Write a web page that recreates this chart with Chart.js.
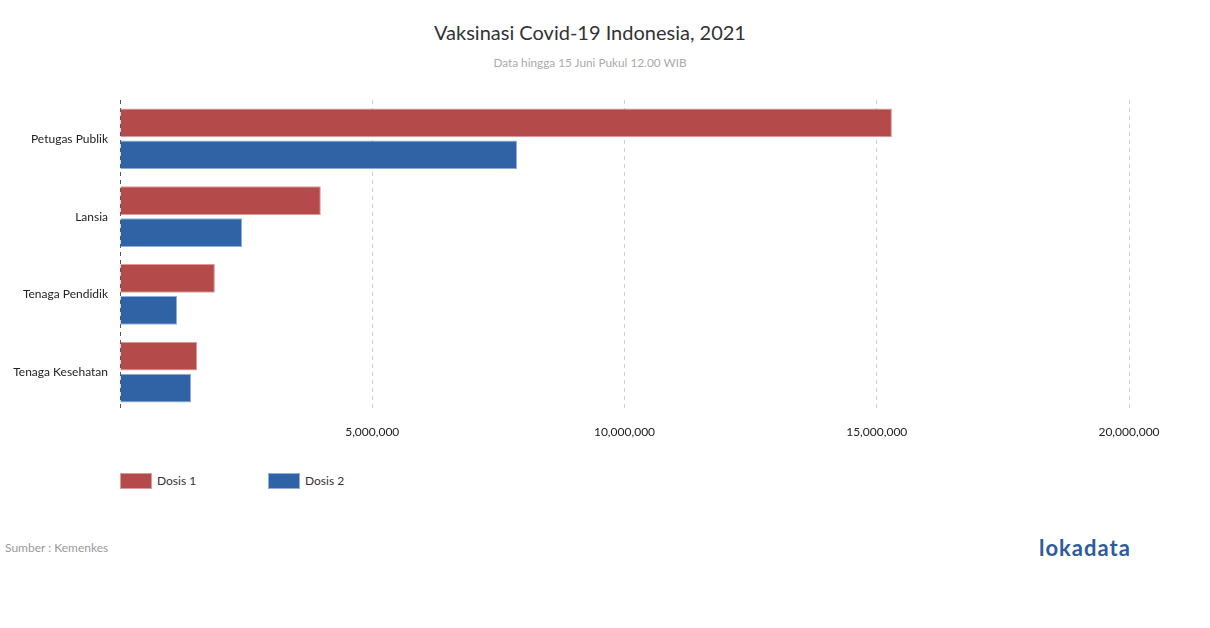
<!DOCTYPE html>
<html>
<head>
<meta charset="utf-8">
<script src="https://cdn.jsdelivr.net/npm/chart.js@4/dist/chart.umd.min.js"></script>
<style>
  html, body { margin: 0; padding: 0; background: #fff; }
  body { width: 1210px; height: 628px; position: relative; overflow: hidden; font-family: Lato, "Open Sans", sans-serif; }
  #title { position: absolute; left: 0; width: 1180px; top: 20px; text-align: center; font-size: 20px; color: #333; }
  #subtitle { position: absolute; left: 0; width: 1180px; top: 55px; text-align: center; font-size: 11.8px; color: #aaa; }
  #wrap { position: absolute; left: 0; top: 100px; width: 1190px; height: 351px; }
  #legend { position: absolute; left: 120px; top: 472px; font-size: 12px; color: #333; }
  .li { position: absolute; top: 0; white-space: nowrap; }
  .sw { display: inline-block; width: 30px; height: 14px; vertical-align: middle; margin-right: 5px; border: 1px solid; }
  .li span { vertical-align: middle; }
  #source { position: absolute; left: 5px; top: 540px; font-size: 12px; color: #9a9a9a; }
  #logo { position: absolute; left: 1039px; top: 534px; font-size: 22px; font-weight: 700; color: #2d5c9c; letter-spacing: 1px; }
</style>
</head>
<body>
<div id="title">Vaksinasi Covid-19 Indonesia, 2021</div>
<div id="subtitle">Data hingga 15 Juni Pukul 12.00 WIB</div>
<div id="wrap"><canvas id="c"></canvas></div>
<div id="legend"></div>
<div id="source">Sumber : Kemenkes</div>
<div id="logo">lokadata</div>
<script>
const categories = ["Petugas Publik", "Lansia", "Tenaga Pendidik", "Tenaga Kesehatan"];
const seriesNames = ["Dosis 1", "Dosis 2"];
const dosis1 = [15300000, 3980000, 1880000, 1530000];
const dosis2 = [7870000, 2420000, 1130000, 1410000];
const xTicks = [0, 5000000, 10000000, 15000000, 20000000];

const fills = ["#b54a4a", "#2f63a6"];
const borders = ["#dc9a9a", "#8fb0d8"];

const datasets = [dosis1, dosis2].map((d, i) => ({
  label: seriesNames[i],
  data: d,
  backgroundColor: fills[i],
  borderColor: borders[i],
  borderWidth: 1,
  categoryPercentage: 0.82,
  barPercentage: 0.9
}));

const legend = document.getElementById('legend');
datasets.forEach((ds, i) => {
  const el = document.createElement('div');
  el.className = 'li';
  el.style.left = (i * 148) + 'px';
  el.innerHTML = '<i class="sw" style="background:' + ds.backgroundColor + ';border-color:' + ds.borderColor + '"></i><span>' + ds.label + '</span>';
  legend.appendChild(el);
});

new Chart(document.getElementById('c'), {
  type: 'bar',
  data: { labels: categories, datasets },
  options: {
    indexAxis: 'y',
    responsive: true,
    maintainAspectRatio: false,
    animation: false,
    layout: { padding: { left: 0, right: 61, top: 0, bottom: 0 } },
    plugins: { legend: { display: false }, title: { display: false }, tooltip: { enabled: false } },
    scales: {
      x: {
        min: 0, max: 20000000,
        afterBuildTicks: (s) => { s.ticks = xTicks.map(v => ({ value: v })); },
        afterFit: (s) => { s.height = 40; s.paddingLeft = 0; s.paddingRight = 0; },
        border: { display: false, dash: [4, 4] },
        grid: {
          drawTicks: false,
          color: (ctx) => ctx.tick && ctx.tick.value === 0 ? '#555' : '#cfcfcf',
          lineWidth: 1
        },
        ticks: {
          padding: 14,
          color: '#222',
          font: { family: 'Lato', size: 12 },
          callback: (v) => v === 0 ? '' : Number(v).toLocaleString('en-US')
        }
      },
      y: {
        afterFit: (s) => { s.width = 120; s.paddingTop = 0; s.paddingBottom = 0; },
        border: { display: false },
        grid: { display: false, drawTicks: false },
        ticks: { padding: 12, color: '#222', font: { family: 'Lato', size: 12 } }
      }
    }
  }
});
</script>
</body>
</html>
